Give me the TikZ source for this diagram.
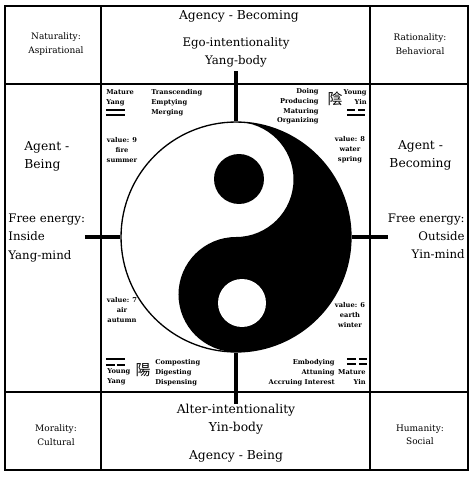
\documentclass[tikz,border=0pt]{standalone}
\usepackage{fontspec}
\setmainfont{DejaVu Serif}
\newfontfamily\cjk{Noto Sans CJK TC}
\begin{document}
\begin{tikzpicture}[
    x=0.02cm, y=0.02cm,
    rule/.style={line width=1.1pt},
    stem/.style={line width=1.8pt},
    bar/.style={line width=0.9pt},
    big/.style={align=center, font=\fontsize{7}{10.3}\selectfont, inner sep=0pt},
    side/.style={font=\fontsize{6.7}{10.3}\selectfont, inner sep=0pt},
    corner/.style={align=center, font=\fontsize{5.1}{7.7}\selectfont, inner sep=0pt},
    tiny/.style={align=center, font=\bfseries\fontsize{3.8}{5.6}\selectfont, inner sep=0pt},
    tinyr/.style={align=right, font=\bfseries\fontsize{3.8}{5.6}\selectfont, inner sep=0pt},
    tinyl/.style={align=left, font=\bfseries\fontsize{3.8}{5.6}\selectfont, inner sep=0pt},
    hanzi/.style={inner sep=0pt, font=\cjk\fontsize{8.5}{8.5}\selectfont}
  ]
    \useasboundingbox (0,0) rectangle (474,478);

    % yin side
    \fill (236,356) arc[start angle=90, end angle=-90, radius=115]
      arc[start angle=270, end angle=90, radius=57.5]
      arc[start angle=-90, end angle=90, radius=57.5] -- cycle;
    \node[circle, draw, line width=0.75pt, minimum size=4.6cm, inner sep=0pt] (taiji) at (236,241) {};
    \node[circle, fill=black, minimum size=1cm, inner sep=0pt] (yangeye) at (239,299) {};
    \node[circle, fill=white, minimum size=0.96cm, inner sep=0pt] (yineye) at (242,175) {};

    % frame
    \draw[rule] (5,472) rectangle (468,8);
    \draw[rule] (101,472) -- (101,8);
    \draw[rule] (370,472) -- (370,8);
    \draw[rule] (5,394) -- (468,394);
    \draw[rule] (5,86) -- (468,86);

    % ticks
    \coordinate (topend) at (236,407);
    \coordinate (botend) at (236,74);
    \coordinate (leftend) at (85,241);
    \coordinate (rightend) at (388,241);
    \draw[stem] (topend) -- (taiji.north);
    \draw[stem] (botend) -- (taiji.south);
    \draw[stem] (leftend) -- (taiji.west);
    \draw[stem] (rightend) -- (taiji.east);

    % top and bottom bands
    \node[big] (agencytop) at (239,462) {Agency - Becoming};
    \node[big, font=\fontsize{6.7}{10.3}\selectfont] (ego) at (236,426) {Ego-intentionality\\Yang-body};
    \node[big] (alter) at (236,59) {Alter-intentionality\\Yin-body};
    \node[big] (agencybot) at (236,22) {Agency - Being};

    % corners
    \node[corner] (natur) at (56,434) {Naturality:\\Aspirational};
    \node[corner] (ratio) at (420,434) {Rationality:\\Behavioral};
    \node[corner] (moral) at (56,43) {Morality:\\Cultural};
    \node[corner] (human) at (420,43) {Humanity:\\Social};

    % sides
    \node[big, align=left, anchor=west] (agentl) at (24,322) {Agent -\\Being};
    \node[side, align=left, anchor=west] (freel) at (8,240) {Free energy:\\Inside\\Yang-mind};
    \node[big] (agentr) at (420.5,323) {Agent -\\Becoming};
    \node[side, align=right, anchor=east] (freer) at (465,242) {Free energy:\\Outside\\Yin-mind};

    % quadrant texts
    \node[tinyl, anchor=north west] (myang) at (106,389) {Mature\\Yang};
    \node[tinyl, anchor=north west] (mverbs) at (151,389) {Transcending\\Emptying\\Merging};
    \node[tiny] (mval) at (122,328) {value: 9\\fire\\summer};
    \node[tinyr, anchor=north east] (dverbs) at (319,390) {Doing\\Producing\\Maturing\\Organizing};
    \node[tinyr, anchor=north east] (yyin) at (367,389) {Young\\Yin};
    \node[tiny] (wval) at (350,328) {value: 8\\water\\spring};
    \node[tiny] (aval) at (122,168) {value: 7\\air\\autumn};
    \node[tiny] (eval) at (350,163) {value: 6\\earth\\winter};
    \node[tinyl, anchor=north west] (yyang) at (107,110) {Young\\Yang};
    \node[tinyl, anchor=north west] (cverbs) at (155,119) {Composting\\Digesting\\Dispensing};
    \node[tinyr, anchor=north east] (everbs) at (335,119) {Embodying\\Attuning\\Accruing Interest};
    \node[tinyr, anchor=north east] (myin) at (366,109) {Mature\\Yin};

    % hanzi
    \node[hanzi] (yinchar) at (335,379) {陰};
    \node[hanzi] (yangchar) at (143,108) {陽};

    % bars: mature yang
    \foreach \y in {368,363} { \draw[bar] (106,\y) -- (125,\y); }
    % young yin
    \draw[bar] (347,368) -- (355,368) (358,368) -- (365,368);
    \draw[bar] (347,363) -- (365,363);
    % young yang
    \draw[bar] (106,119) -- (125,119);
    \draw[bar] (106,113) -- (115,113) (117,113) -- (125,113);
    % mature yin
    \foreach \y in {119,114} { \draw[bar] (347,\y) -- (356,\y) (359,\y) -- (367,\y); }
  \end{tikzpicture}
\end{document}
